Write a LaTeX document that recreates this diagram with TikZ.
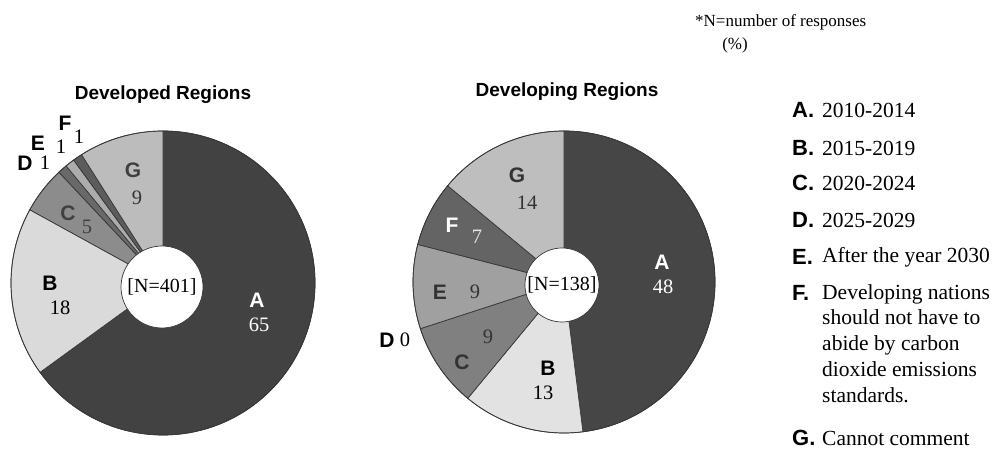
\documentclass[tikz,border=0pt]{standalone}
\usepackage{fontspec}
\setmainfont{Liberation Serif}
\newfontfamily\hv{Liberation Sans}
\definecolor{lA}{RGB}{66,66,66}
\definecolor{lB}{RGB}{218,218,218}
\definecolor{lC}{RGB}{140,140,140}
\definecolor{lD}{RGB}{105,105,105}
\definecolor{lE}{RGB}{172,172,172}
\definecolor{lF}{RGB}{92,92,92}
\definecolor{lG}{RGB}{188,188,188}
\definecolor{rA}{RGB}{70,70,70}
\definecolor{rB}{RGB}{226,226,226}
\definecolor{rC}{RGB}{128,128,128}
\definecolor{rE}{RGB}{160,160,160}
\definecolor{rF}{RGB}{100,100,100}
\definecolor{rG}{RGB}{190,190,190}
\definecolor{edge}{RGB}{55,55,55}
\newcommand\pieslice[6]{%
  \filldraw[slicestyle, fill=#6] (#1,#2) -- ++(#4:#3pt) arc[start angle=#4, end angle=#5, radius=#3pt] -- cycle;}
\tikzset{
  slicestyle/.style={draw=edge, line width=0.7pt},
  title/.style={font=\hv\bfseries\fontsize{19}{22}\selectfont, inner sep=0pt},
  letter/.style={font=\hv\bfseries\fontsize{21}{24}\selectfont, inner sep=0pt},
  num/.style={font=\fontsize{20.5}{24}\selectfont, inner sep=0pt},
  hole/.style={circle, fill=white, draw=edge, line width=0.7pt, inner sep=0pt, font=\fontsize{20}{24}\selectfont},
  legletter/.style={font=\hv\bfseries\fontsize{22}{25}\selectfont, inner sep=0pt, anchor=west},
  legtext/.style={font=\fontsize{21.5}{25.8}\selectfont, inner sep=0pt, anchor=west},
  note/.style={font=\fontsize{17}{20}\selectfont, inner sep=0pt}
}
\begin{document}
\begin{tikzpicture}[x=1pt,y=1pt]
\useasboundingbox[fill=white] (0,0) rectangle (1005,465);
% ---------- left pie ----------
\coordinate (lc) at (163,182);
\pieslice{163}{182}{152}{90}{-144}{lA}
\pieslice{163}{182}{152}{-144}{-208.8}{lB}
\pieslice{163}{182}{152}{-208.8}{-226.8}{lC}
\pieslice{163}{182}{152}{-226.8}{-230.4}{lD}
\pieslice{163}{182}{152}{-230.4}{-234}{lE}
\pieslice{163}{182}{152}{-234}{-237.6}{lF}
\pieslice{163}{182}{152}{-237.6}{-270}{lG}
\draw[slicestyle] (lc) circle[radius=152pt];
\node[hole, minimum size=82pt] (lhole) at (162,178) {[N=401]};
\node[title] (ltitle) at (163,370) {Developed Regions};
\node[letter, white] (lAl) at (257,165) {A};
\node[num, white] (lAn) at (259,140) {65};
\node[letter] (lBl) at (50,182) {B};
\node[num] (lBn) at (60,157) {18};
\node[letter, black!75] (lCl) at (68,252) {C};
\node[num, black!75] (lCn) at (87,238) {5};
\node[letter, black!75] (lGl) at (133,295) {G};
\node[num, black!80] (lGn) at (137,267) {9};
\node[letter] (lDl) at (25,302) {D};
\node[num] (lDn) at (45,302) {1};
\node[letter] (lEl) at (38,322) {E};
\node[num] (lEn) at (61,318) {1};
\node[letter] (lFl) at (65,342) {F};
\node[num] (lFn) at (79,328) {1};
% ---------- right pie ----------
\coordinate (rc) at (564,183);
\pieslice{564}{183}{151}{90}{-82.8}{rA}
\pieslice{564}{183}{151}{-82.8}{-129.6}{rB}
\pieslice{564}{183}{151}{-129.6}{-162}{rC}
\pieslice{564}{183}{151}{-162}{-194.4}{rE}
\pieslice{564}{183}{151}{-194.4}{-219.6}{rF}
\pieslice{564}{183}{151}{-219.6}{-270}{rG}
\draw[slicestyle] (rc) circle[radius=151pt];
\node[hole, minimum size=74pt] (rhole) at (562,180) {[N=138]};
\node[title] (rtitle) at (567,373) {Developing Regions};
\node[letter, white] (rAl) at (662,203) {A};
\node[num, white] (rAn) at (663,178) {48};
\node[letter] (rBl) at (548,97) {B};
\node[num] (rBn) at (543,72) {13};
\node[letter, black!80] (rCl) at (462,103) {C};
\node[num, black!80] (rCn) at (488,128) {9};
\node[letter] (rDl) at (387,125) {D};
\node[num] (rDn) at (405,125) {0};
\node[letter, black!80] (rEl) at (440,173) {E};
\node[num, black!80] (rEn) at (475,173) {9};
\node[letter, white] (rFl) at (452,240) {F};
\node[num, black!10] (rFn) at (477,228) {7};
\node[letter, black!80] (rGl) at (517,290) {G};
\node[num, black!80] (rGn) at (527,262) {14};
% ---------- legend ----------
\node[legletter] (kA) at (792,355) {A.};
\node[legtext] (tA) at (822,355) {2010-2014};
\node[legletter] (kB) at (792,317) {B.};
\node[legtext] (tB) at (822,317) {2015-2019};
\node[legletter] (kC) at (792,282) {C.};
\node[legtext] (tC) at (822,282) {2020-2024};
\node[legletter] (kD) at (792,245) {D.};
\node[legtext] (tD) at (822,245) {2025-2029};
\node[legletter] (kE) at (792,208) {E.};
\node[legtext] (tE) at (822,208) {After the year 2030};
\node[legletter] (kF) at (792,172) {F.};
\node[legtext, anchor=north west, align=left] (tF) at (822,181) {Developing nations\\should not have to\\abide by carbon\\dioxide emissions\\standards.};
\node[legletter] (kG) at (792,27) {G.};
\node[legtext] (tG) at (822,27) {Cannot comment};
% ---------- note ----------
\node[note, anchor=west] (n1) at (695,443) {*N=number of responses};
\node[note] (n2) at (735,420) {(\%)};
\end{tikzpicture}
\end{document}
